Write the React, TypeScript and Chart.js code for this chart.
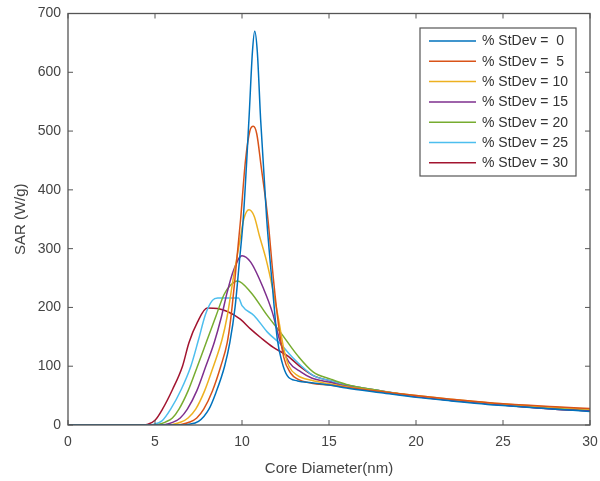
import React, { useEffect, useRef } from "react";
import { Chart, registerables } from "chart.js";

Chart.register(...registerables);

const seriesLabels = [
  "% StDev =  0",
  "% StDev =  5",
  "% StDev = 10",
  "% StDev = 15",
  "% StDev = 20",
  "% StDev = 25",
  "% StDev = 30",
];

const seriesColors = ["#0072BD", "#D95319", "#EDB120", "#7E2F8E", "#77AC30", "#4DBEEE", "#A2142F"];

const sd0: number[][] = [[0,0],[6.4,0],[6.9,1],[7.5,6],[8.1,27],[8.5,55],[9,100],[9.3,140],[9.6,200],[9.85,278],[10.07,350],[10.4,520],[10.6,635],[10.73,670],[10.88,635],[11.07,520],[11.42,350],[11.75,235],[12.03,146],[12.3,107],[12.6,84],[13.2,75],[14,72],[15,68],[16,63],[18,55],[20,47],[22,41],[25,33],[28,27],[30,23]];
const sd5: number[][] = [[0,0],[6,0],[6.5,1],[7,5],[7.4,12],[7.8,27],[8.3,58],[8.78,100],[9.15,140],[9.35,180],[9.6,250],[9.92,350],[10.2,450],[10.45,500],[10.65,508],[10.85,495],[11.1,440],[11.49,350],[11.8,250],[12.1,170],[12.4,115],[12.8,88],[13.2,78],[14,71],[15,68],[16,64],[18,57],[20,50],[22,44],[25,36],[28,31],[30,28]];
const sd10: number[][] = [[0,0],[5.5,0],[6,1],[6.5,5],[6.9,12],[7.34,27],[7.85,58],[8.36,100],[8.85,145],[9.15,185],[9.5,250],[9.89,316],[10.1,350],[10.4,366],[10.7,355],[11.0,322],[11.4,280],[11.74,235],[12.1,180],[12.4,130],[12.7,100],[13.2,84],[14,76],[15,70],[16,65],[18,57],[20,50],[22,44],[25,36],[28,30],[30,27]];
const sd15: number[][] = [[0,0],[5.1,0],[5.6,1],[6.05,5],[6.45,12],[6.86,27],[7.4,58],[7.92,100],[8.4,140],[8.8,182],[9.15,226],[9.5,262],[10,288],[10.5,277],[11.25,231],[11.74,192],[12.2,141],[12.7,107],[13.4,90],[14,80],[15,73],[16,66],[18,56],[20,48],[22,42],[25,34],[28,27],[30,24]];
const sd20: number[][] = [[0,0],[4.8,0],[5.2,1],[5.6,5],[6,12],[6.38,27],[6.9,58],[7.44,100],[8,145],[8.5,185],[8.97,222],[9.35,238],[9.73,245],[10.5,226],[11.46,186],[12.2,158],[13.2,118],[14.1,90],[15.1,78],[16,69],[18,58],[20,49],[22,43],[25,35],[28,28],[30,25]];
const sd25: number[][] = [[0,0],[4.5,0],[4.9,1],[5.4,7],[5.9,27],[6.5,60],[7.06,100],[7.5,145],[7.9,188],[8.3,212],[8.6,216],[9.8,216],[10,203],[10.7,186],[11.46,158],[12.2,138],[13,112],[14.1,84],[15,76],[16,68],[18,58],[20,49],[22,43],[25,35],[28,28],[30,25]];
const sd30: number[][] = [[0,0],[4.2,0],[4.6,1.5],[5,8],[5.43,27],[6,60],[6.58,100],[6.95,140],[7.44,175],[8,199],[8.6,198],[9.16,193],[9.9,180],[10.5,163],[11.1,148],[11.8,132],[12.6,118],[13.4,98],[14.1,84],[15.1,75],[16,68],[18,58],[20,49],[22,42],[25,34],[28,27],[30,24]];

const seriesData = [sd0, sd5, sd10, sd15, sd20, sd25, sd30];

const xTitle = "Core Diameter(nm)";
const yTitle = "SAR (W/g)";
const FONT = "'Liberation Sans', Arial, Helvetica, sans-serif";

const boxPlugin = {
  id: "matlabBox",
  afterDraw(chart: any) {
    const { ctx, chartArea } = chart;
    const { left, right, top, bottom } = chartArea;
    ctx.save();
    ctx.strokeStyle = "#555555";
    ctx.lineWidth = 1.3;
    ctx.strokeRect(left, top, right - left, bottom - top);
    const xs = chart.scales.x;
    const ys = chart.scales.y;
    const tl = 5;
    ctx.lineWidth = 1;
    ctx.beginPath();
    xs.ticks.forEach((t: any) => {
      const px = xs.getPixelForValue(t.value);
      ctx.moveTo(px, bottom);
      ctx.lineTo(px, bottom - tl);
      ctx.moveTo(px, top);
      ctx.lineTo(px, top + tl);
    });
    ys.ticks.forEach((t: any) => {
      const py = ys.getPixelForValue(t.value);
      ctx.moveTo(left, py);
      ctx.lineTo(left + tl, py);
      ctx.moveTo(right, py);
      ctx.lineTo(right - tl, py);
    });
    ctx.stroke();

    // legend
    const lx = 420, ly = 28, lw = 156, lh = 148;
    ctx.fillStyle = "#ffffff";
    ctx.fillRect(lx, ly, lw, lh);
    ctx.strokeStyle = "#555555";
    ctx.lineWidth = 1.2;
    ctx.strokeRect(lx, ly, lw, lh);
    ctx.font = `14px ${FONT}`;
    ctx.textBaseline = "middle";
    ctx.textAlign = "left";
    chart.data.datasets.forEach((ds: any, i: number) => {
      const y = 41 + i * 20.3;
      ctx.strokeStyle = ds.borderColor;
      ctx.lineWidth = 1.5;
      ctx.beginPath();
      ctx.moveTo(429, y);
      ctx.lineTo(476, y);
      ctx.stroke();
      ctx.fillStyle = "#333333";
      ctx.fillText(ds.label, 482, y + 0.5);
    });
    ctx.restore();
  },
};

export default function App() {
  const ref = useRef<HTMLCanvasElement | null>(null);
  useEffect(() => {
    document.body.style.margin = "0";
    if (!ref.current) return;
    const chart = new Chart(ref.current, {
      type: "line",
      data: {
        datasets: seriesData.map((s, i) => ({
          label: seriesLabels[i],
          data: s.map(([x, y]) => ({ x, y })),
          borderColor: seriesColors[i],
          backgroundColor: seriesColors[i],
          borderWidth: 1.5,
          pointRadius: 0,
          cubicInterpolationMode: "monotone" as const,
          fill: false,
        })),
      },
      options: {
        animation: false,
        responsive: false,
        maintainAspectRatio: false,
        layout: { padding: { top: 13.5, right: 10, left: 0, bottom: 0 } },
        plugins: { legend: { display: false }, tooltip: { enabled: false } },
        scales: {
          x: {
            type: "linear",
            min: 0,
            max: 30,
            ticks: { stepSize: 5, padding: 9, color: "#444444", font: { family: FONT, size: 14 }, maxRotation: 0 },
            grid: { display: false, drawTicks: false },
            border: { display: false },
            title: { display: true, text: xTitle, color: "#444444", font: { family: FONT, size: 15 }, padding: { top: 0, bottom: 3 } },
            afterFit: (s: any) => { s.height = 56; s.paddingLeft = 0; s.paddingRight = 0; },
          },
          y: {
            type: "linear",
            min: 0,
            max: 700,
            ticks: { stepSize: 100, padding: 7, color: "#444444", font: { family: FONT, size: 14 } },
            grid: { display: false, drawTicks: false },
            border: { display: false },
            title: { display: true, text: yTitle, color: "#444444", font: { family: FONT, size: 15 }, padding: { top: 12, bottom: 0 } },
            afterFit: (s: any) => { s.width = 68; s.paddingTop = 0; s.paddingBottom = 0; },
          },
        },
      },
      plugins: [boxPlugin],
    });
    return () => chart.destroy();
  }, []);
  return (
    <div style={{ width: 600, height: 481, background: "#ffffff" }}>
      <canvas ref={ref} width={600} height={481} style={{ display: "block" }} />
    </div>
  );
}
